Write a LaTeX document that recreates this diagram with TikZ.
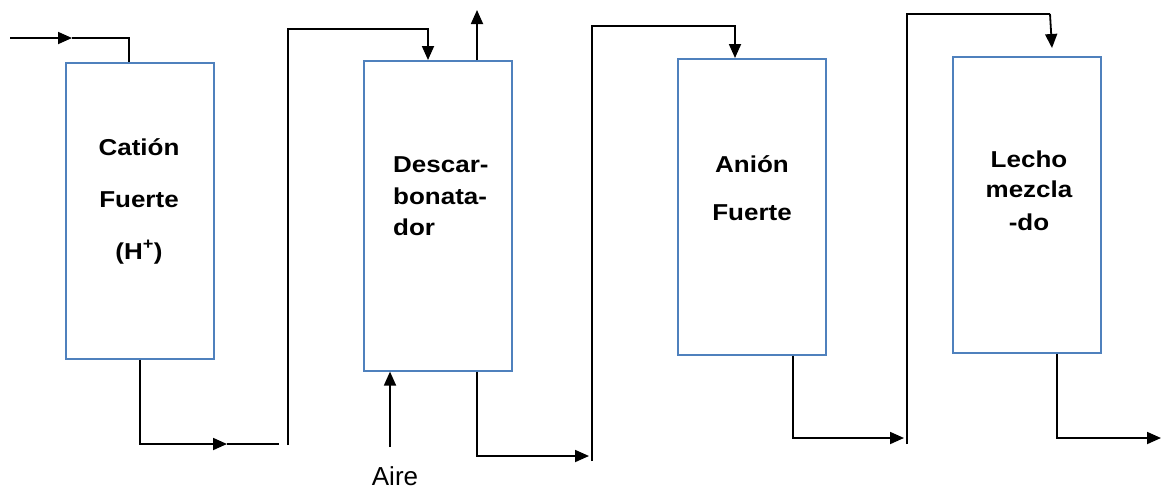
\documentclass[tikz,border=0pt]{standalone}
\usepackage{fontspec}
\setmainfont{Liberation Sans}
\newfontfamily\boxfont[FakeStretch=1.13]{Liberation Sans}
\usetikzlibrary{arrows.meta}
\definecolor{tankblue}{RGB}{79,129,189}
\begin{document}
\begin{tikzpicture}[x=1pt,y=-1pt,
  tank/.style={draw=tankblue, line width=1.6pt, minimum width=148pt, anchor=north west, inner sep=0pt, fill=white},
  pipe/.style={line width=1.8pt, draw=black},
  arr/.style={pipe, -{Triangle[length=14pt,width=12pt]}},
  lbl/.style={font=\boxfont\bfseries\fontsize{23}{27}\selectfont, inner sep=0pt, anchor=base},
  lblL/.style={lbl, anchor=base west},
  plain/.style={font=\fontsize{26}{30}\selectfont, inner sep=0pt, anchor=base}]
\useasboundingbox (0,0) rectangle (1161,491);
% tanks
\node[tank, minimum height=296pt] (b1) at (65,62) {};
\node[tank, minimum height=310pt] (b2) at (363,60) {};
\node[tank, minimum height=296pt] (b3) at (677,58) {};
\node[tank, minimum height=296pt] (b4) at (952,56) {};
% labels
\node[lbl] (t1a) at (139,155) {Catión};
\node[lbl] (t1b) at (139,207) {Fuerte};
\node[lbl] (t1c) at (139,259) {(H\textsuperscript{+})};
\node[lblL] (t2a) at (393,172) {Descar-};
\node[lblL] (t2b) at (393,204) {bonata-};
\node[lblL] (t2c) at (393,235) {dor};
\node[lbl] (t3a) at (752,172) {Anión};
\node[lbl] (t3b) at (752,220) {Fuerte};
\node[lbl] (t4a) at (1029,167) {Lecho};
\node[lbl] (t4b) at (1029,197) {mezcla};
\node[lbl] (t4c) at (1029,230) {-do};
\node[plain] (aire) at (395,485) {Aire};
% coordinates
\coordinate (feed) at (10,38);
\coordinate (feedA) at (72,38);
\coordinate (c1) at (129,38);
\coordinate (d1) at (140,444);
\coordinate (d1a) at (227,444);
\coordinate (d1e) at (279,444);
\coordinate (r2b) at (288,445);
\coordinate (r2t) at (288,29);
\coordinate (r2c) at (428,29);
\coordinate (vent) at (477,10);
\coordinate (airin) at (390,447);
\coordinate (d2) at (477,456);
\coordinate (d2e) at (589,456);
\coordinate (r3b) at (592,461);
\coordinate (r3t) at (592,26);
\coordinate (r3c) at (735,26);
\coordinate (d3) at (793,438);
\coordinate (d3e) at (904,438);
\coordinate (r4b) at (907,444);
\coordinate (r4t) at (907,14);
\coordinate (r4c) at (1050,14);
\coordinate (r4e) at (1052,48);
\coordinate (d4) at (1057,438);
\coordinate (d4e) at (1161,438);
% connectors
\draw[arr] (feed) -- (feedA);
\draw[pipe] (feedA) -- (c1) -- (c1 |- b1.north);
\draw[arr] (b1.south -| d1) -- (d1) -- (d1a);
\draw[pipe] (d1a) -- (d1e);
\draw[arr] (r2b) -- (r2t) -- (r2c) -- (r2c |- b2.north);
\draw[arr] (b2.north -| vent) -- (vent);
\draw[arr] (airin) -- (airin |- b2.south);
\draw[arr] (b2.south -| d2) -- (d2) -- (d2e);
\draw[arr] (r3b) -- (r3t) -- (r3c) -- (r3c |- b3.north);
\draw[arr] (b3.south -| d3) -- (d3) -- (d3e);
\draw[pipe] (r4b) -- (r4t) -- (r4c);
\draw[arr] (r4c) -- (r4e);
\draw[arr] (b4.south -| d4) -- (d4) -- (d4e);
\end{tikzpicture}
\end{document}
